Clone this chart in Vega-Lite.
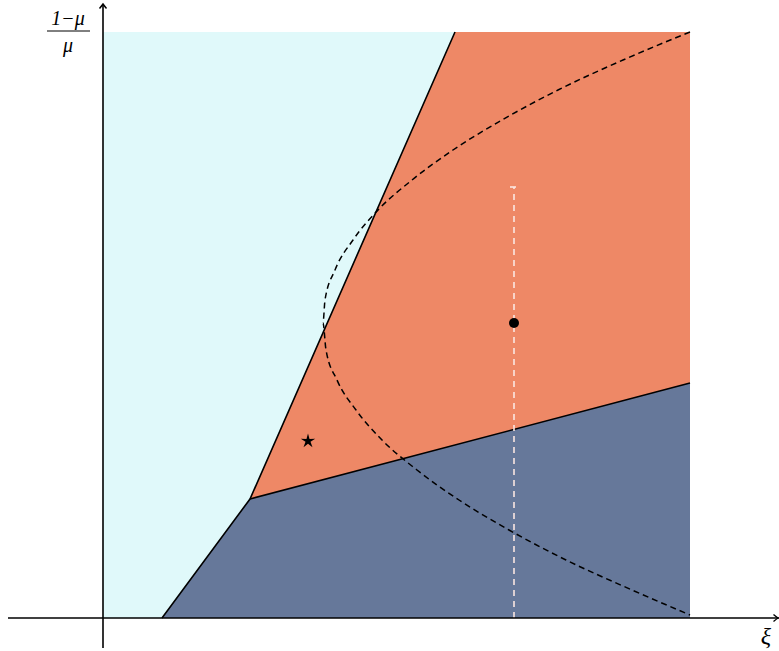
{
  "$schema": "https://vega.github.io/schema/vega-lite/v6.json",
  "width": 779,
  "height": 651,
  "autosize": "none",
  "padding": 0,
  "background": "white",
  "config": {"view": {"stroke": null}},
  "encoding": {
    "x": {"field": "x", "type": "quantitative", "scale": {"domain": [-103, 676], "nice": false, "zero": false}, "axis": null},
    "y": {"field": "y", "type": "quantitative", "scale": {"domain": [-33, 618], "nice": false, "zero": false}, "axis": null}
  },
  "layer": [
    {
      "data": {"values": [{"x": 0, "x2": 587, "y": 0, "y2": 586}]},
      "mark": {"type": "rect", "fill": "#EE8866", "stroke": null},
      "encoding": {"x2": {"field": "x2"}, "y2": {"field": "y2"}}
    },
    {
      "data": {"values": [
        {"y": 0, "x": 0, "x2": 59},
        {"y": 119, "x": 0, "x2": 147},
        {"y": 586, "x": 0, "x2": 352}
      ]},
      "mark": {"type": "area", "orient": "horizontal", "fill": "#E0F9FA", "stroke": null},
      "encoding": {"x2": {"field": "x2"}}
    },
    {
      "data": {"values": [
        {"x": 59, "y": 0, "y2": 0},
        {"x": 147, "y": 119, "y2": 0},
        {"x": 587, "y": 235, "y2": 0}
      ]},
      "mark": {"type": "area", "orient": "vertical", "fill": "#66789A", "stroke": null},
      "encoding": {"y2": {"field": "y2"}}
    },
    {
      "data": {"values": [
        {"g": "a", "o": 1, "x": 59, "y": 0},
        {"g": "a", "o": 2, "x": 147, "y": 119},
        {"g": "a", "o": 3, "x": 352, "y": 586},
        {"g": "b", "o": 1, "x": 147, "y": 119},
        {"g": "b", "o": 2, "x": 587, "y": 235}
      ]},
      "mark": {"type": "line", "color": "black", "strokeWidth": 1.6},
      "encoding": {"detail": {"field": "g", "type": "nominal"}, "order": {"field": "o", "type": "quantitative"}}
    },
    {
      "data": {"values": [
        {"o": 1, "x": 587, "y": 586},
        {"o": 2, "x": 520, "y": 558},
        {"o": 3, "x": 455, "y": 528},
        {"o": 4, "x": 399, "y": 498},
        {"o": 5, "x": 350, "y": 468},
        {"o": 6, "x": 309, "y": 438},
        {"o": 7, "x": 275, "y": 408},
        {"o": 8, "x": 250, "y": 378},
        {"o": 9, "x": 232, "y": 348},
        {"o": 10, "x": 222, "y": 318},
        {"o": 11, "x": 220, "y": 295},
        {"o": 12, "x": 223, "y": 268},
        {"o": 13, "x": 234, "y": 238},
        {"o": 14, "x": 253, "y": 208},
        {"o": 15, "x": 279, "y": 178},
        {"o": 16, "x": 314, "y": 148},
        {"o": 17, "x": 356, "y": 118},
        {"o": 18, "x": 406, "y": 88},
        {"o": 19, "x": 463, "y": 58},
        {"o": 20, "x": 529, "y": 28},
        {"o": 21, "x": 587, "y": 3}
      ]},
      "mark": {"type": "line", "color": "black", "strokeWidth": 1.5, "strokeDash": [6, 4], "interpolate": "monotone"},
      "encoding": {"order": {"field": "o", "type": "quantitative"}}
    },
    {
      "data": {"values": [
        {"x": 411, "y": 0, "x2": 411, "y2": 431},
        {"x": 407, "y": 431, "x2": 415, "y2": 431}
      ]},
      "mark": {"type": "rule", "color": "#FBE6E2", "strokeWidth": 1.6, "strokeDash": [6, 5]},
      "encoding": {"x2": {"field": "x2"}, "y2": {"field": "y2"}}
    },
    {
      "data": {"values": [{"x": 411, "y": 295}]},
      "mark": {"type": "point", "shape": "circle", "filled": true, "color": "black", "size": 100, "opacity": 1}
    },
    {
      "data": {"values": [{"x": 205, "y": 177}]},
      "mark": {"type": "point", "shape": "M0,-1 L0.2,-0.28 L0.951,-0.309 L0.33,0.11 L0.588,0.809 L0,0.35 L-0.588,0.809 L-0.33,0.11 L-0.951,-0.309 L-0.2,-0.28 Z", "filled": true, "color": "black", "size": 230, "opacity": 1}
    },
    {
      "data": {"values": [
        {"x": -95, "y": 0, "x2": 676, "y2": 0},
        {"x": 0, "y": -30, "x2": 0, "y2": 614}
      ]},
      "mark": {"type": "rule", "color": "black", "strokeWidth": 1.6},
      "encoding": {"x2": {"field": "x2"}, "y2": {"field": "y2"}}
    },
    {
      "data": {"values": [{"x": 0, "y": 614, "a": 0}, {"x": 675, "y": 0, "a": 90}]},
      "mark": {"type": "point", "shape": "M -0.7 0.9 Q -0.2 0.3 0 0 Q 0.2 0.3 0.7 0.9", "filled": false, "stroke": "black", "strokeWidth": 1.4, "size": 100, "opacity": 1},
      "encoding": {"angle": {"field": "a", "type": "quantitative", "scale": null}}
    },
    {
      "data": {"values": [{"x": -56, "y": 587, "x2": -13, "y2": 587}]},
      "mark": {"type": "rule", "color": "black", "strokeWidth": 1},
      "encoding": {"x2": {"field": "x2"}, "y2": {"field": "y2"}}
    },
    {
      "data": {"values": [
        {"x": -35, "y": 599, "t": "1−μ"},
        {"x": -35, "y": 572, "t": "μ"}
      ]},
      "mark": {"type": "text", "font": "Liberation Serif", "fontStyle": "italic", "fontSize": 20, "align": "center", "baseline": "middle", "color": "black"},
      "encoding": {"text": {"field": "t"}}
    },
    {
      "data": {"values": [
        {"x": 663, "y": -19, "t": "ξ"}
      ]},
      "mark": {"type": "text", "font": "Liberation Serif", "fontStyle": "italic", "fontSize": 24, "align": "center", "baseline": "middle", "color": "black"},
      "encoding": {"text": {"field": "t"}}
    }
  ]
}
